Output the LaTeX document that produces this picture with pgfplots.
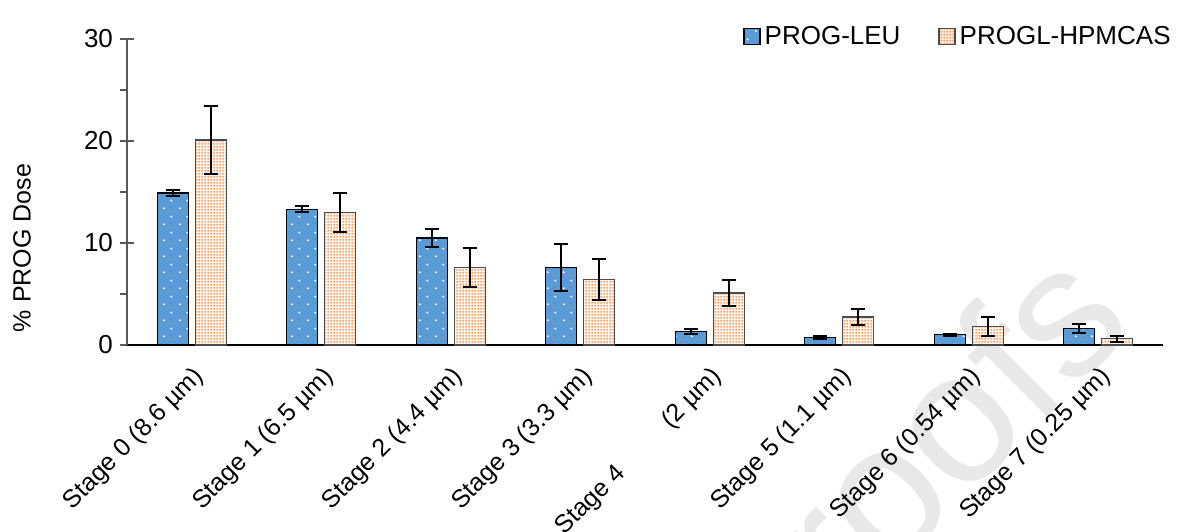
\documentclass[border=0pt]{standalone}
\usepackage{pgfplots}
\pgfplotsset{compat=1.18}
\usepackage{pgfplotstable}
\usepackage{fontspec}
\setmainfont{Liberation Sans}
\usetikzlibrary{patterns.meta}
\definecolor{barblue}{RGB}{91,155,213}
\definecolor{sqorange}{RGB}{246,160,100}
\definecolor{wmgray}{RGB}{232,232,232}
\definecolor{axgray}{RGB}{89,89,89}

\tikzdeclarepattern{
  name=sparsedots, type=uncolored,
  bounding box={(0pt,0pt) and (8pt,8pt)},
  tile size={(8pt,8pt)},
  code={
    \pgfpathcircle{\pgfpoint{2pt}{2pt}}{0.6pt}
    \pgfpathcircle{\pgfpoint{6pt}{6pt}}{0.6pt}
    \pgfusepath{fill}
  }
}
\tikzdeclarepattern{
  name=finesquares, type=uncolored,
  bounding box={(0pt,0pt) and (1.6pt,1.6pt)},
  tile size={(1.6pt,1.6pt)},
  code={
    \pgfpathrectangle{\pgfpoint{0.25pt}{0.25pt}}{\pgfpoint{1.1pt}{1.1pt}}
    \pgfusepath{fill}
  }
}

\pgfplotstableread{
x  leu   leuerr  hpm   hpmerr
0  14.9  0.25    20.1  3.3
1  13.3  0.3     13.0  1.9
2  10.5  0.9     7.6   1.9
3  7.6   2.3     6.4   2.0
4  1.35  0.25    5.1   1.25
5  0.75  0.12    2.75  0.8
6  1.0   0.12    1.8   0.9
7  1.6   0.45    0.6   0.3
}\datatable

\begin{document}
\begin{tikzpicture}
% watermark
\node[anchor=base west, rotate=45, inner sep=0pt, text=wmgray,
      font=\fontsize{93pt}{93pt}\selectfont] at (315pt,-181pt) {Proofs};
\begin{axis}[
  scale only axis,
  width=518pt, height=153pt,
  xmin=-0.5, xmax=7.5,
  ymin=0, ymax=30,
  axis x line*=bottom,
  axis y line*=left,
  x axis line style={black, line width=1pt},
  y axis line style={axgray, line width=0.6pt},
  ytick={0,10,20,30},
  extra y ticks={5,15,25},
  extra y tick labels={},
  extra y tick style={major tick length=3.5pt, tick align=outside},
  tick align=center,
  major tick length=7pt,
  ytick style={axgray, line width=0.6pt},
  xtick={0,...,7},
  xtick style={draw=none},
  minor xtick={-0.5,0.5,...,7.5},
  minor tick length=3.5pt,
  minor x tick style={black, line width=1pt},
  /pgf/number format/assume math mode=true,
  xticklabels={
    {Stage 0 (8.6 µm)},
    {Stage 1 (6.5 µm)},
    {Stage 2 (4.4 µm)},
    {Stage 3 (3.3 µm)},
    {Stage 4\hspace{32pt}(2 µm)},
    {Stage 5 (1.1 µm)},
    {Stage 6 (0.54 µm)},
    {Stage 7 (0.25 µm)}},
  xticklabel style={rotate=45, anchor=north east, font=\fontsize{12.5pt}{14pt}\selectfont, inner sep=2pt},
  yticklabel style={font=\fontsize{13pt}{15pt}\selectfont},
  ylabel={\% PROG Dose},
  ylabel style={font=\fontsize{12.5pt}{15pt}\selectfont, at={(axis description cs:-0.1014,0.317)}, anchor=center},
  ybar,
  bar width=15.5pt,
  legend columns=2,
  legend style={draw=none, fill=none, at={(rel axis cs:1.0116,1.0082)}, anchor=east,
    font=\fontsize{13pt}{15pt}\selectfont, inner sep=0pt,
    /tikz/every even column/.append style={column sep=17pt}},
  legend image code/.code={\draw[#1] (0pt,-4pt) rectangle (8pt,4pt);},
  error bars/error bar style={black, line width=1pt},
  error bars/error mark options={black, line width=1pt, mark size=3.5pt, rotate=90},
]
\addplot+[bar shift=-9.5pt, draw=black, line width=0.6pt, fill=barblue,
  postaction={pattern=sparsedots, pattern color=white},
  error bars/.cd, y dir=both, y explicit]
  table[x=x, y=leu, y error=leuerr] {\datatable};
\addlegendentry{PROG-LEU}
\addplot+[bar shift=9.5pt, draw=black!70, line width=0.6pt, fill=white,
  postaction={pattern=finesquares, pattern color=sqorange},
  error bars/.cd, y dir=both, y explicit]
  table[x=x, y=hpm, y error=hpmerr] {\datatable};
\addlegendentry{PROGL-HPMCAS}
\end{axis}
\pgfresetboundingbox
\path[use as bounding box] (-63.5pt,-93pt) rectangle (525.5pt,172.5pt);
\end{tikzpicture}
\end{document}
